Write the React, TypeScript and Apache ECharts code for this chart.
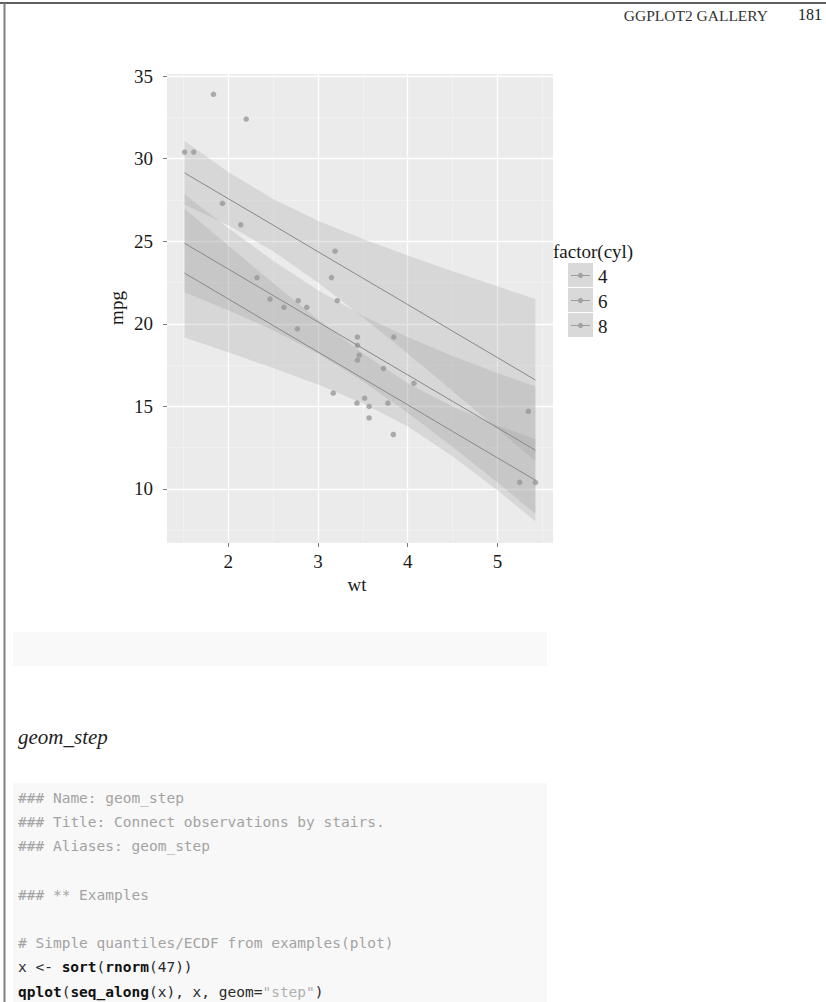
import React, { useEffect, useRef } from "react";
import * as echarts from "echarts";

// ---- axis ticks / grid ----
const xTicks = [2, 3, 4, 5];
const xMinor = [1.5, 2.5, 3.5, 4.5, 5.5];
const yTicks = [10, 15, 20, 25, 30, 35];
const yMinor = [7.5, 12.5, 17.5, 22.5, 27.5, 32.5];

// ---- mtcars points by cylinder ----
const wt4 = [2.32, 3.19, 3.15, 2.2, 1.615, 1.835, 2.465, 1.935, 2.14, 1.513, 2.78];
const mpg4 = [22.8, 24.4, 22.8, 32.4, 30.4, 33.9, 21.5, 27.3, 26.0, 30.4, 21.4];
const wt6 = [2.62, 2.875, 3.215, 3.46, 3.44, 3.44, 2.77];
const mpg6 = [21.0, 21.0, 21.4, 18.1, 19.2, 17.8, 19.7];
const wt8 = [3.44, 3.57, 4.07, 3.73, 3.78, 5.25, 5.424, 5.345, 3.52, 3.435, 3.84, 3.845, 3.17, 3.57];
const mpg8 = [18.7, 14.3, 16.4, 17.3, 15.2, 10.4, 10.4, 14.7, 15.5, 15.2, 13.3, 19.2, 15.8, 15.0];

// ---- fitted lines and confidence bands ----
const fitX = [1.513, 2.0, 2.5, 3.0, 3.5, 4.0, 4.5, 5.0, 5.424];
const fit4 = [29.14, 27.58, 25.98, 24.37, 22.77, 21.17, 19.56, 17.96, 16.6];
const lo4 = [27.21, 25.97, 24.4, 22.5, 20.4, 18.2, 15.93, 13.65, 11.7];
const hi4 = [31.07, 29.19, 27.56, 26.24, 25.14, 24.14, 23.19, 22.27, 21.5];
const fit6 = [24.88, 23.32, 21.72, 20.12, 18.51, 16.91, 15.31, 13.71, 12.35];
const lo6 = [21.91, 20.83, 19.62, 18.21, 16.53, 14.62, 12.56, 10.4, 8.5];
const hi6 = [27.85, 25.81, 23.82, 22.03, 20.49, 19.2, 18.06, 17.02, 16.2];
const fit8 = [23.07, 21.51, 19.9, 18.3, 16.7, 15.1, 13.49, 11.89, 10.53];
const lo8 = [19.17, 18.28, 17.33, 16.33, 15.2, 13.8, 11.99, 9.92, 8.05];
const hi8 = [26.97, 24.74, 22.47, 20.27, 18.2, 16.4, 14.99, 13.86, 13.01];

const legendTitle = "factor(cyl)";
const legendLabels = ["4", "6", "8"];

const codeLines = [
  "### Name: geom_step",
  "### Title: Connect observations by stairs.",
  "### Aliases: geom_step",
  "",
  "### ** Examples",
  "",
  "# Simple quantiles/ECDF from examples(plot)",
  "x <- {b|sort}({b|rnorm}(47))",
  "{b|qplot}({b|seq_along}(x), x, geom={s|\"step\"})",
];

const SERIF = "'Liberation Serif', 'DejaVu Serif', serif";
const MONO = "'DejaVu Sans Mono', 'Liberation Mono', monospace";

function ribbon(lo: number[], hi: number[], z: number) {
  return {
    type: "custom",
    coordinateSystem: "cartesian2d",
    silent: true,
    z,
    data: fitX.map((x, i) => [x, lo[i], hi[i]]),
    encode: { x: 0, y: [1, 2] },
    renderItem: (params: any, api: any) => {
      if (params.dataIndex !== 0) return null;
      const top = fitX.map((x, i) => api.coord([x, hi[i]]));
      const bot = fitX.map((x, i) => api.coord([x, lo[i]])).reverse();
      return {
        type: "polygon",
        shape: { points: top.concat(bot) },
        style: { fill: "rgba(150,150,150,0.24)" },
      };
    },
  };
}

function fitLine(fit: number[]) {
  return {
    type: "line",
    silent: true,
    z: 4,
    showSymbol: false,
    data: fitX.map((x, i) => [x, fit[i]]),
    lineStyle: { color: "#888888", width: 1 },
  };
}

function points(wt: number[], mpg: number[]) {
  return {
    type: "scatter",
    silent: true,
    z: 2,
    symbolSize: 5.5,
    data: wt.map((w, i) => [w, mpg[i]]),
    itemStyle: { color: "#9a9a9a" },
  };
}

export default function App() {
  const ref = useRef<HTMLDivElement>(null);
  useEffect(() => {
    const chart = echarts.init(ref.current!, null, { renderer: "svg" });

    const graphics: any[] = [];
    // page frame
    graphics.push({ type: "line", shape: { x1: 0, y1: 3, x2: 826, y2: 3 }, style: { stroke: "#2a2a2a", lineWidth: 1.5 } });
    graphics.push({ type: "line", shape: { x1: 4.5, y1: 3, x2: 4.5, y2: 1002 }, style: { stroke: "#808080", lineWidth: 2 } });
    // header
    graphics.push({ type: "text", x: 768, y: 15, style: { text: "GGPLOT2 GALLERY", font: `15.5px ${SERIF}`, fill: "#333", textAlign: "right", textVerticalAlign: "middle" } });
    graphics.push({ type: "text", x: 822, y: 14, style: { text: "181", font: `16px ${SERIF}`, fill: "#222", textAlign: "right", textVerticalAlign: "middle" } });
    // axis titles
    graphics.push({ type: "text", x: 357, y: 584, style: { text: "wt", font: `19px ${SERIF}`, fill: "#1a1a1a", textAlign: "center", textVerticalAlign: "middle" } });
    graphics.push({ type: "text", x: 116, y: 308, rotation: Math.PI / 2, style: { text: "mpg", font: `19px ${SERIF}`, fill: "#1a1a1a", textAlign: "center", textVerticalAlign: "middle" } });
    // legend
    graphics.push({ type: "text", x: 553, y: 251, style: { text: legendTitle, font: `19px ${SERIF}`, fill: "#1a1a1a", textAlign: "left", textVerticalAlign: "middle" } });
    legendLabels.forEach((lab, i) => {
      const y0 = 263 + i * 25;
      graphics.push({ type: "rect", shape: { x: 568, y: y0, width: 25, height: 24 }, style: { fill: "#d9d9d9" } });
      graphics.push({ type: "line", shape: { x1: 571, y1: y0 + 12.5, x2: 590, y2: y0 + 12.5 }, style: { stroke: "#9a9a9a", lineWidth: 1 } });
      graphics.push({ type: "circle", shape: { cx: 580.5, cy: y0 + 12.5, r: 2.6 }, style: { fill: "#a2a2a2" } });
      graphics.push({ type: "text", x: 598, y: y0 + 13, style: { text: lab, font: `19px ${SERIF}`, fill: "#1a1a1a", textAlign: "left", textVerticalAlign: "middle" } });
    });
    // empty grey box
    graphics.push({ type: "rect", shape: { x: 13, y: 632, width: 534, height: 34 }, style: { fill: "#f9f9f9" } });
    // section title
    graphics.push({ type: "text", x: 18, y: 737, style: { text: "geom_step", font: `italic 21px ${SERIF}`, fill: "#222", textAlign: "left", textVerticalAlign: "middle" } });
    // code block
    graphics.push({ type: "rect", shape: { x: 13, y: 783, width: 534, height: 230 }, style: { fill: "#f8f8f8" } });
    codeLines.forEach((line, i) => {
      if (!line) return;
      const isComment = line.startsWith("#");
      graphics.push({
        type: "text",
        x: 18,
        y: 798 + i * 24.2,
        style: {
          text: line,
          font: `14.5px ${MONO}`,
          fill: isComment ? "#a3a3a3" : "#2a2a2a",
          textAlign: "left",
          textVerticalAlign: "middle",
          rich: {
            b: { fontWeight: "bold", fontFamily: MONO, fontSize: 14.5, fill: "#111" },
            s: { fontFamily: MONO, fontSize: 14.5, fill: "#b0b0b0" },
          },
        },
      });
    });

    const mk = (vals: number[], axis: "xAxis" | "yAxis") => vals.map((v) => ({ [axis]: v }));

    chart.setOption({
      animation: false,
      backgroundColor: "#ffffff",
      grid: { left: 167, top: 74, width: 386, height: 469, show: true, backgroundColor: "#ebebeb", borderWidth: 0 },
      xAxis: {
        type: "value",
        min: 1.317,
        max: 5.62,
        axisLine: { show: false },
        splitLine: { show: false },
        axisTick: { show: true, customValues: xTicks, length: 4, lineStyle: { color: "#7a7a7a", width: 1 } },
        axisLabel: { customValues: xTicks, margin: 9, fontSize: 19, fontFamily: SERIF, color: "#1a1a1a" },
      },
      yAxis: {
        type: "value",
        min: 6.73,
        max: 35.13,
        axisLine: { show: false },
        splitLine: { show: false },
        axisTick: { show: true, customValues: yTicks, length: 4, lineStyle: { color: "#7a7a7a", width: 1 } },
        axisLabel: { customValues: yTicks, margin: 14, fontSize: 19, fontFamily: SERIF, color: "#1a1a1a" },
      },
      graphic: { elements: graphics },
      series: [
        {
          type: "scatter",
          silent: true,
          z: 1,
          symbolSize: 0,
          data: [[3, 20]],
          markLine: {
            silent: true,
            z: 1,
            symbol: ["none", "none"],
            label: { show: false },
            data: [
              ...mk(xMinor, "xAxis").map((d) => ({ ...d, lineStyle: { color: "#f3f3f3", width: 0.7, type: "solid" } })),
              ...mk(yMinor, "yAxis").map((d) => ({ ...d, lineStyle: { color: "#f3f3f3", width: 0.7, type: "solid" } })),
              ...mk(xTicks, "xAxis").map((d) => ({ ...d, lineStyle: { color: "#ffffff", width: 1.3, type: "solid" } })),
              ...mk(yTicks, "yAxis").map((d) => ({ ...d, lineStyle: { color: "#ffffff", width: 1.3, type: "solid" } })),
            ],
          },
        },
        points(wt4, mpg4),
        points(wt6, mpg6),
        points(wt8, mpg8),
        ribbon(lo4, hi4, 3),
        ribbon(lo6, hi6, 3),
        ribbon(lo8, hi8, 3),
        fitLine(fit4),
        fitLine(fit6),
        fitLine(fit8),
      ],
    } as any);
    return () => chart.dispose();
  }, []);
  return (
    <div
      ref={ref}
      style={{ position: "absolute", left: 0, top: 0, width: 826, height: 1002, background: "#fff" }}
    />
  );
}
